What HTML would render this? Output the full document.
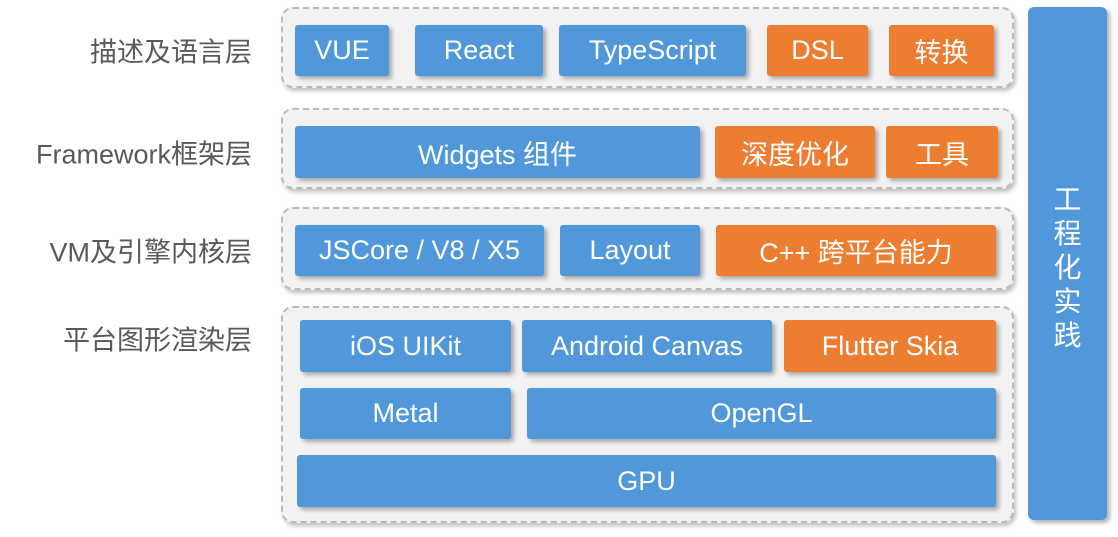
<!DOCTYPE html><html><head><meta charset="utf-8"><style>
body{margin:0;width:1118px;height:537px;background:#fff;position:relative;overflow:hidden;font-family:"Liberation Sans","Noto Sans CJK SC",sans-serif}
.p{position:absolute;left:281px;width:733px;background:#f2f2f2;border:2px dashed #bbb;border-radius:12px;box-shadow:2px 3px 4px rgba(0,0,0,.25);box-sizing:border-box}
.b{position:absolute;background:#5198db;color:#fff;font-size:27px;display:flex;align-items:center;justify-content:center;border-radius:3px;box-shadow:3px 3px 4px rgba(0,0,0,.3);white-space:nowrap}
.o{background:#ed7d31}
.l{position:absolute;right:866px;color:#595959;font-size:27px;white-space:nowrap;transform:translateY(-50%)}
</style></head><body>
<div class="p" style="top:7px;height:81px"></div>
<div class="p" style="top:108px;height:81px"></div>
<div class="p" style="top:207px;height:83px"></div>
<div class="p" style="top:306px;height:217px"></div>
<div class="l" style="top:50px">描述及语言层</div>
<div class="l" style="top:152px">Framework框架层</div>
<div class="l" style="top:250px">VM及引擎内核层</div>
<div class="l" style="top:338px">平台图形渲染层</div>
<div class="b" style="left:295px;top:25px;width:94px;height:51px">VUE</div>
<div class="b" style="left:415px;top:25px;width:128px;height:51px">React</div>
<div class="b" style="left:559px;top:25px;width:187px;height:51px">TypeScript</div>
<div class="b o" style="left:767px;top:25px;width:101px;height:51px">DSL</div>
<div class="b o" style="left:889px;top:25px;width:105px;height:51px">转换</div>
<div class="b" style="left:295px;top:126px;width:405px;height:52px">Widgets 组件</div>
<div class="b o" style="left:715px;top:126px;width:160px;height:52px">深度优化</div>
<div class="b o" style="left:886px;top:126px;width:112px;height:52px">工具</div>
<div class="b" style="left:295px;top:225px;width:249px;height:51px">JSCore / V8 / X5</div>
<div class="b" style="left:560px;top:225px;width:140px;height:51px">Layout</div>
<div class="b o" style="left:716px;top:225px;width:280px;height:51px">C++ 跨平台能力</div>
<div class="b" style="left:300px;top:320px;width:211px;height:52px">iOS UIKit</div>
<div class="b" style="left:522px;top:320px;width:250px;height:52px">Android Canvas</div>
<div class="b o" style="left:784px;top:320px;width:212px;height:52px">Flutter Skia</div>
<div class="b" style="left:300px;top:388px;width:211px;height:51px">Metal</div>
<div class="b" style="left:527px;top:388px;width:469px;height:51px">OpenGL</div>
<div class="b" style="left:297px;top:455px;width:699px;height:52px">GPU</div>
<div class="b" style="left:1028px;top:7px;width:79px;height:513px;border-radius:6px;align-items:flex-start;padding-top:176px;box-sizing:border-box;line-height:34px;text-align:center;white-space:normal;font-size:28px"><div style="width:30px">工程化实践</div></div>
</body></html>
